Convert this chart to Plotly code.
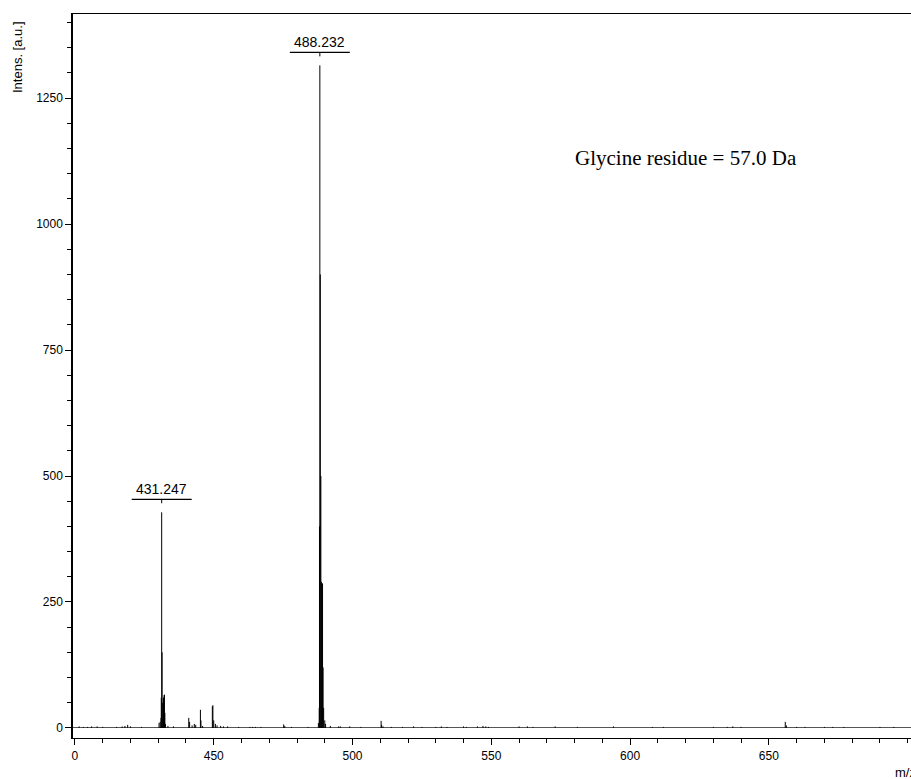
import plotly.graph_objects as go

# Peak list (m/z, intensity)
mz = [401.5, 403.0, 404.5, 406.0, 408.0, 410.0, 415.0, 417.0, 418.0, 419.0, 420.0, 424.0,
      430.3, 430.7, 431.0, 431.1, 431.247, 431.4, 431.6, 431.9, 432.1, 432.25, 432.4, 432.6,
      433.5, 435.5,
      441.0, 441.3, 442.2, 443.0, 443.5, 445.2, 445.4, 446.0, 449.5, 449.7, 450.0, 450.6,
      451.2, 452.5, 453.5, 455.0, 459.0, 463.0, 464.0, 465.0, 467.0, 475.2, 475.6, 478.0, 484.0,
      487.7, 488.0, 488.1, 488.232, 488.4, 488.6, 488.8, 489.0, 489.2, 489.4, 489.6, 490.0,
      490.3, 492.0, 495.0, 495.6, 499.0, 503.0, 510.3, 510.5, 511.0, 514.0,
      518.0, 522.0, 525.0, 530.0, 532.0, 534.0, 540.0, 541.0, 545.0, 547.0, 548.0, 549.0,
      560.0, 563.0, 565.0, 573.0, 581.0, 594.0, 608.0, 612.0, 630.0, 635.0, 637.0, 640.0,
      655.9, 656.3, 660.0, 663.0, 670.0, 673.0, 677.0, 690.0, 695.0]
intensity = [3, 2, 2, 3, 3, 2, 2, 3, 4, 6, 3, 2,
             10, 12, 20, 60, 428, 150, 50, 60, 65, 66, 30, 8,
             4, 3,
             20, 12, 5, 8, 6, 36, 15, 4, 43, 45, 15, 8,
             5, 4, 3, 3, 2, 2, 2, 2, 2, 7, 4, 2, 2,
             10, 40, 400, 1315, 900, 500, 290, 285, 287, 120, 40, 15,
             8, 4, 3, 3, 3, 2, 14, 6, 3, 2,
             2, 3, 2, 2, 3, 2, 3, 2, 3, 4, 3, 2,
             3, 3, 2, 3, 2, 3, 2, 2, 2, 2, 3, 2,
             12, 5, 2, 2, 2, 2, 2, 2, 2]

labelled_mz = [431.247, 488.232]
labelled_int = [428, 1315]
labelled_text = ["431.247", "488.232"]

x_tickvals = [400, 450, 500, 550, 600, 650]
x_ticktext = ["0", "450", "500", "550", "600", "650"]
y_tickvals = [0, 250, 500, 750, 1000, 1250]

# stick spectrum path
xs, ys = [], []
for m, h in zip(mz, intensity):
    xs += [m, m, None]
    ys += [0, h, None]

fig = go.Figure()
fig.add_trace(go.Scatter(x=xs, y=ys, mode="lines",
                         line=dict(color="black", width=1), hoverinfo="skip",
                         showlegend=False))

shapes = []
annotations = []
for m, h, t in zip(labelled_mz, labelled_int, labelled_text):
    shapes.append(dict(type="line", xref="x", yref="y",
                       xsizemode="pixel", xanchor=m, x0=-30, x1=30,
                       ysizemode="pixel", yanchor=h, y0=13, y1=13,
                       line=dict(color="black", width=1.2)))
    shapes.append(dict(type="line", xref="x", yref="y",
                       xsizemode="pixel", xanchor=m, x0=0, x1=0,
                       ysizemode="pixel", yanchor=h, y0=9, y1=13,
                       line=dict(color="black", width=1)))
    annotations.append(dict(x=m, y=h, xref="x", yref="y", text=t, showarrow=False,
                            yshift=23, xanchor="center", yanchor="middle",
                            font=dict(family="Liberation Sans, Arial", size=14,
                                      color="black")))

annotations.append(dict(x=0.7315, y=0.801, xref="paper", yref="paper",
                        text="Glycine residue = 57.0 Da", showarrow=False,
                        xanchor="center", yanchor="middle",
                        font=dict(family="Liberation Serif, Times New Roman", size=21,
                                  color="black")))
annotations.append(dict(x=-0.0668, y=0.9406, xref="paper", yref="paper",
                        text="Intens. [a.u.]", textangle=-90, showarrow=False,
                        xanchor="center", yanchor="middle",
                        font=dict(family="Liberation Sans, Arial", size=13, color="black")))
annotations.append(dict(x=0.9785, y=-0.035, xref="paper", yref="paper",
                        text="m/z", showarrow=False, xanchor="left", yanchor="top",
                        font=dict(family="Liberation Sans, Arial", size=13, color="black")))

fig.update_layout(
    width=911, height=779,
    margin=dict(l=73, r=0, t=14, b=41),
    paper_bgcolor="white", plot_bgcolor="white",
    shapes=shapes, annotations=annotations,
    font=dict(family="Liberation Sans, Arial", size=12, color="black"),
    xaxis=dict(range=[399.3, 701.2], tickvals=x_tickvals, ticktext=x_ticktext,
               ticks="outside", ticklen=6, tickwidth=1.2, tickcolor="black",
               minor=dict(dtick=10, tick0=400, ticks="outside", ticklen=4,
                          tickwidth=1, tickcolor="black"),
               showline=True, linecolor="black", linewidth=1.2, mirror=True,
               showgrid=False, zeroline=False,
               tickfont=dict(size=12, color="black")),
    yaxis=dict(range=[-20, 1417], tickvals=y_tickvals,
               ticks="outside", ticklen=6, tickwidth=1.2, tickcolor="black",
               minor=dict(dtick=50, tick0=0, ticks="outside", ticklen=4,
                          tickwidth=1, tickcolor="black"),
               showline=True, linecolor="black", linewidth=1.5, mirror=False,
               showgrid=False, zeroline=True, zerolinecolor="#555555", zerolinewidth=1,
               tickfont=dict(size=12, color="black")),
)

fig.write_html("out.html")
